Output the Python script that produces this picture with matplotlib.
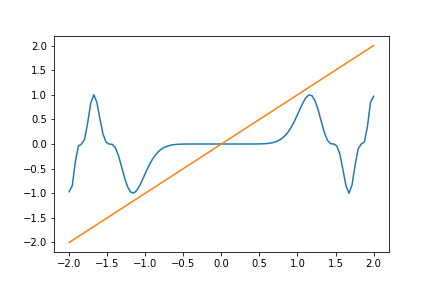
import matplotlib
matplotlib.use("Agg")
import matplotlib.pyplot as plt

# Courbe bleue : valeurs (100 points entre -2 et 2)
x_courbe = [-2.0000, -1.9596, -1.9192, -1.8788, -1.8384, -1.7980, -1.7576, -1.7172, -1.6768, -1.6364,
            -1.5960, -1.5556, -1.5152, -1.4747, -1.4343, -1.3939, -1.3535, -1.3131, -1.2727, -1.2323,
            -1.1919, -1.1515, -1.1111, -1.0707, -1.0303, -0.9899, -0.9495, -0.9091, -0.8687, -0.8283,
            -0.7879, -0.7475, -0.7071, -0.6667, -0.6263, -0.5859, -0.5455, -0.5051, -0.4646, -0.4242,
            -0.3838, -0.3434, -0.3030, -0.2626, -0.2222, -0.1818, -0.1414, -0.1010, -0.0606, -0.0202,
            0.0202, 0.0606, 0.1010, 0.1414, 0.1818, 0.2222, 0.2626, 0.3030, 0.3434, 0.3838,
            0.4242, 0.4646, 0.5051, 0.5455, 0.5859, 0.6263, 0.6667, 0.7071, 0.7475, 0.7879,
            0.8283, 0.8687, 0.9091, 0.9495, 0.9899, 1.0303, 1.0707, 1.1111, 1.1515, 1.1919,
            1.2323, 1.2727, 1.3131, 1.3535, 1.3939, 1.4343, 1.4747, 1.5152, 1.5556, 1.5960,
            1.6364, 1.6768, 1.7172, 1.7576, 1.7980, 1.8384, 1.8788, 1.9192, 1.9596, 2.0000]
y_courbe = [-0.969, -0.847, -0.354, -0.040, 0.000, 0.093, 0.428, 0.828, 1.000, 0.846,
            0.508, 0.198, 0.036, 0.000, -0.007, -0.074, -0.232, -0.455, -0.686, -0.872,
            -0.978, -0.997, -0.942, -0.835, -0.701, -0.561, -0.431, -0.318, -0.227, -0.156,
            -0.104, -0.067, -0.042, -0.025, -0.014, -0.008, -0.004, -0.002, -0.001, 0.000,
            0.000, 0.000, 0.000, 0.000, 0.000, 0.000, 0.000, 0.000, 0.000, 0.000,
            0.000, 0.000, 0.000, 0.000, 0.000, 0.000, 0.000, 0.000, 0.000, 0.000,
            0.000, 0.001, 0.002, 0.004, 0.008, 0.014, 0.025, 0.042, 0.067, 0.104,
            0.156, 0.227, 0.318, 0.431, 0.561, 0.701, 0.835, 0.942, 0.997, 0.978,
            0.872, 0.686, 0.455, 0.232, 0.074, 0.007, 0.000, -0.036, -0.198, -0.508,
            -0.846, -1.000, -0.828, -0.428, -0.093, 0.000, 0.040, 0.354, 0.847, 0.969]

# Droite orange
x_droite = [-2.0, 2.0]
y_droite = [-2.0, 2.0]

plt.figure(figsize=(6, 4), dpi=72)
plt.subplots_adjust(left=0.125, right=0.9, bottom=0.124, top=0.876)
plt.plot(x_courbe, y_courbe)
plt.plot(x_droite, y_droite)
plt.savefig("out.png")
